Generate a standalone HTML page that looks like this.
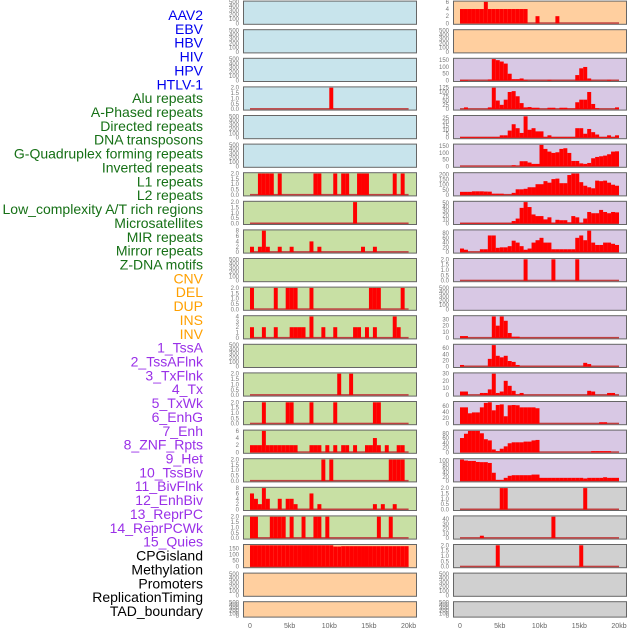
<!DOCTYPE html>
<html><head><meta charset="utf-8"><style>
html,body{margin:0;padding:0;background:#fff;}
svg{display:block;font-family:"Liberation Sans",sans-serif;}
</style></head><body>
<svg id="chart" width="630" height="630" viewBox="0 0 630 630"></svg>
<script>
// ---- data ----
const labels = ["AAV2","EBV","HBV","HIV","HPV","HTLV-1","Alu repeats","A-Phased repeats","Directed repeats","DNA transposons","G-Quadruplex forming repeats","Inverted repeats","L1 repeats","L2 repeats","Low_complexity A/T rich regions","Microsatellites","MIR repeats","Mirror repeats","Z-DNA motifs","CNV","DEL","DUP","INS","INV","1_TssA","2_TssAFlnk","3_TxFlnk","4_Tx","5_TxWk","6_EnhG","7_Enh","8_ZNF_Rpts","9_Het","10_TssBiv","11_BivFlnk","12_EnhBiv","13_ReprPC","14_ReprPCWk","15_Quies","CPGisland","Methylation","Promoters","ReplicationTiming","TAD_boundary"];
const groups = ["virus","virus","virus","virus","virus","virus","repeat","repeat","repeat","repeat","repeat","repeat","repeat","repeat","repeat","repeat","repeat","repeat","repeat","cnv","cnv","cnv","cnv","cnv","chrom","chrom","chrom","chrom","chrom","chrom","chrom","chrom","chrom","chrom","chrom","chrom","chrom","chrom","chrom","other","other","other","other","other"];
const binKb = 0.5;
const nBins = 40;
function sp(o){const a=new Array(40).fill(0);for(const k in o)a[+k]=o[k];return a;}
const d_AAV2 = [];
const d_EBV = [];
const d_HBV = [];
const d_HIV = sp({20:2});
const d_HPV = [];
const d_HTLV1 = [];
const d_Alu = sp({2:2,3:2,4:2,5:2,7:2,16:2,17:2,21:2,23:2,24:2,27:2,28:2,29:2,36:2,38:2});
const d_APhased = sp({26:2});
const d_Directed = sp({0:2,2:2,3:8,4:2,7:2,10:2,15:4,17:2,28:2,31:2});
const d_DNAtrans = [];
const d_GQuad = sp({0:2,6:2,9:2,10:2,11:2,15:2,30:2,31:2,32:2,38:2});
const d_Inverted = sp({0:2,3:2,6:2,10:2,11:2,12:2,13:2,15:4,18:2,21:2,26:2,27:2,29:2,31:2,36:4,37:2});
const d_L1 = [];
const d_L2 = sp({22:2,25:2});
const d_LowComp = sp({3:2,9:2,10:2,15:2,21:2,31:2,32:2});
const d_Micro = sp({0:2,1:2,2:2,3:6,4:2,5:2,6:2,7:2,8:2,9:2,10:2,11:2,15:2,16:2,17:2,19:2,21:2,23:2,24:2,26:2,29:2,30:2,31:4,32:2,34:2,37:2,38:2});
const d_MIR = sp({18:2,20:2,35:2,36:2,37:2,38:2});
const d_Mirror = sp({0:6,1:4,2:2,3:8,4:4,7:4,9:4,10:4,11:2,15:6,17:2,31:2,33:2,36:2});
const d_ZDNA = sp({0:2,1:2,5:2,6:2,7:2,8:2,10:2,13:2,16:2,17:2,19:2,32:2,35:2});
const d_CNV = [175,175,175,175,175,175,175,175,175,175,175,175,175,175,175,175,175,175,175,175,175,165,165,168,168,168,168,168,168,168,168,168,168,168,168,168,168,168,168,168];
const d_DEL = [];
const d_DUP = [];
const d_INS = sp({0:4,1:4,2:4,3:4,4:4,5:4,6:6,7:4,8:4,9:4,10:4,11:4,12:4,13:4,14:4,15:4,16:4,19:2,24:2});
const d_INV = [];
const d_TssA = sp({0:4,1:4,7:8,8:158,9:150,10:140,11:125,12:50,13:10,14:10,15:15,16:5,22:5,29:40,30:90,31:100,32:15,37:5});
const d_TssAFlnk = sp({1:10,7:10,8:125,9:50,10:25,11:55,12:100,13:105,14:75,15:35,16:10,17:12,18:8,19:8,22:8,23:8,25:8,26:8,27:3,28:3,29:40,30:55,31:55,32:100,33:30,34:5,39:10});
const d_TxFlnk = [1,1,1,1,1,1,1,1,1,1,3,3,9,17,12,6,27,10,12,8,8,1,3,1,1,1,1,1,1,12,12,5,11,7,4,1,1,3,1,3];
const d_Tx = [1,1,1,1,1,1,1,1,1,1,1,1,1,8,3,38,38,28,18,18,160,130,110,100,105,130,135,100,40,40,22,18,25,60,70,75,80,90,110,112];
const d_TxWk = [30,30,30,35,35,35,33,32,12,12,12,3,3,20,55,55,60,75,75,105,105,135,120,155,160,115,115,195,210,210,125,90,75,65,140,135,140,120,100,90];
const d_EnhG = [1,1,1,1,1,1,1,1,1,1,1,1,1,6,12,38,52,40,22,18,18,10,15,2,9,8,8,3,18,15,2,12,28,25,25,33,28,25,28,27];
const d_Enh = [15,10,1,1,1,12,12,70,70,18,20,20,25,48,40,25,10,15,40,50,60,40,40,12,12,12,12,12,12,60,70,50,90,40,30,30,40,40,35,30];
const d_ZNF = sp({16:2,23:2,29:2});
const d_Het = [];
const d_TssBiv = sp({0:3,1:3,8:35,9:20,10:35,11:28,12:8,13:2,14:2});
const d_BivFlnk = sp({0:5,7:25,8:70,9:35,10:30,11:35,12:18,13:15,14:5,31:12,32:8});
const d_EnhBiv = sp({0:5,1:5,5:3,6:3,7:8,8:30,9:3,10:5,11:20,12:13,13:6,14:1,15:3,32:6,33:5,37:3,38:3});
const d_ReprPC = sp({0:55,1:55,2:35,3:38,4:38,5:55,6:70,7:72,8:45,9:63,10:65,11:25,12:62,13:63,14:62,15:55,16:55,17:55,18:55,19:52,35:5,36:5});
const d_ReprPCWk = sp({0:60,1:78,2:90,3:90,4:90,5:80,6:55,7:50,8:12,9:5,10:15,11:25,12:38,13:42,14:42,15:42,16:45,17:45,18:50,19:52,33:5,34:5,35:5,36:5,37:5});
const d_Quies = [105,100,98,98,93,92,92,88,40,5,5,15,25,28,28,28,28,28,31,31,15,15,15,15,15,15,15,15,15,15,15,12,15,15,15,15,18,15,15,15];
const d_CPG = sp({10:2,11:2,31:2});
const d_Meth = sp({5:5,23:45});
const d_Prom = sp({9:2,30:2});
const d_RepTiming = [];
const d_TAD = [];
const series = [d_AAV2,d_EBV,d_HBV,d_HIV,d_HPV,d_HTLV1,d_Alu,d_APhased,d_Directed,d_DNAtrans,d_GQuad,d_Inverted,d_L1,d_L2,d_LowComp,d_Micro,d_MIR,d_Mirror,d_ZDNA,d_CNV,d_DEL,d_DUP,d_INS,d_INV,d_TssA,d_TssAFlnk,d_TxFlnk,d_Tx,d_TxWk,d_EnhG,d_Enh,d_ZNF,d_Het,d_TssBiv,d_BivFlnk,d_EnhBiv,d_ReprPC,d_ReprPCWk,d_Quies,d_CPG,d_Meth,d_Prom,d_RepTiming,d_TAD];
const xTickKb = [0,5,10,15,20];
const xTickLabels = ["0","5kb","10kb","15kb","20kb"];

// ---- styling ----
const NS="http://www.w3.org/2000/svg";
const svg=document.getElementById('chart');
const bg={virus:"#c8e4ec",repeat:"#c8e0a4",cnv:"#ffcf9f",chrom:"#d8c8e4",other:"#d0d0d0"};
const lc={virus:"#0000ee",repeat:"#167016",cnv:"#ffa000",chrom:"#9a30e8",other:"#000"};
function mk(tag,attrs){const e=document.createElementNS(NS,tag);for(const k in attrs)e.setAttribute(k,attrs[k]);svg.appendChild(e);return e;}
const colX=[243,453], colW=173, zeroX=[250,460], pxKb=[7.93,7.95];
function xScale(col,kb){return zeroX[col]+kb*pxKb[col];}
function niceTicks(max){const steps=[0.5,1,2,2.5,5,10,20,25,50,100,200,250,500];let s=steps[steps.length-1];for(const st of steps){if(Math.floor(max/st+1e-9)<=5){s=st;break;}}const t=[];for(let v=0;v<=max+1e-9;v+=s)t.push(v);return {t,s};}

// labels
labels.forEach((lab,i)=>{
  const t=mk('text',{x:203,y:(15+i*13.86+5).toFixed(1),'text-anchor':'end','font-size':14,fill:lc[groups[i]]});
  t.textContent=lab;
  
  
});

series.forEach((data,i)=>{
  const col=i<22?0:1, row=i%22;
  const top=0.6+row*28.6, h=row===21?16.4:24.2;
  const slug=labels[i].toLowerCase().replace(/[^a-z0-9]+/g,'-');
  const r=mk('rect',{x:colX[col]+0.5,y:top+0.5,width:colW,height:h-1,fill:bg[groups[i]],stroke:'#666','stroke-width':1});
  
  
  const max=data.length?Math.max(...data):0;
  const ymax=max>0?max:500;
  const y0=top+h-1.5, y1=top+1.3;
  const yS=v=>y0-(v/ymax)*(y0-y1);
  const {t,s}=niceTicks(ymax);
  t.forEach(v=>{
    const tx=mk('text',{x:colX[col]-4,y:(yS(v)+2).toFixed(1),'text-anchor':'end','font-size':6,fill:'#777'});
    tx.textContent=s<1?v.toFixed(1):String(v);
    
    
  });
  if(max>0){
    const bl=mk('rect',{x:xScale(col,0),y:y0-1,width:xScale(col,nBins*binKb)-xScale(col,0),height:1.5,fill:'#c04040'});
    
    
    data.forEach((v,b)=>{
      if(v<=0)return;
      const xa=xScale(col,b*binKb), xb=xScale(col,(b+1)*binKb);
      const br=mk('rect',{x:xa.toFixed(2),y:yS(v).toFixed(2),width:(xb-xa).toFixed(2),height:(y0-yS(v)).toFixed(2),fill:'#ff0000'});
      
      
    });
  }
});

[0,1].forEach(col=>{
  xTickKb.forEach((kb,j)=>{
    const tx=mk('text',{x:xScale(col,kb).toFixed(1),y:628,'text-anchor':'middle','font-size':7,fill:'#666'});
    tx.textContent=xTickLabels[j];
    
    
  });
});
</script>
</body></html>
